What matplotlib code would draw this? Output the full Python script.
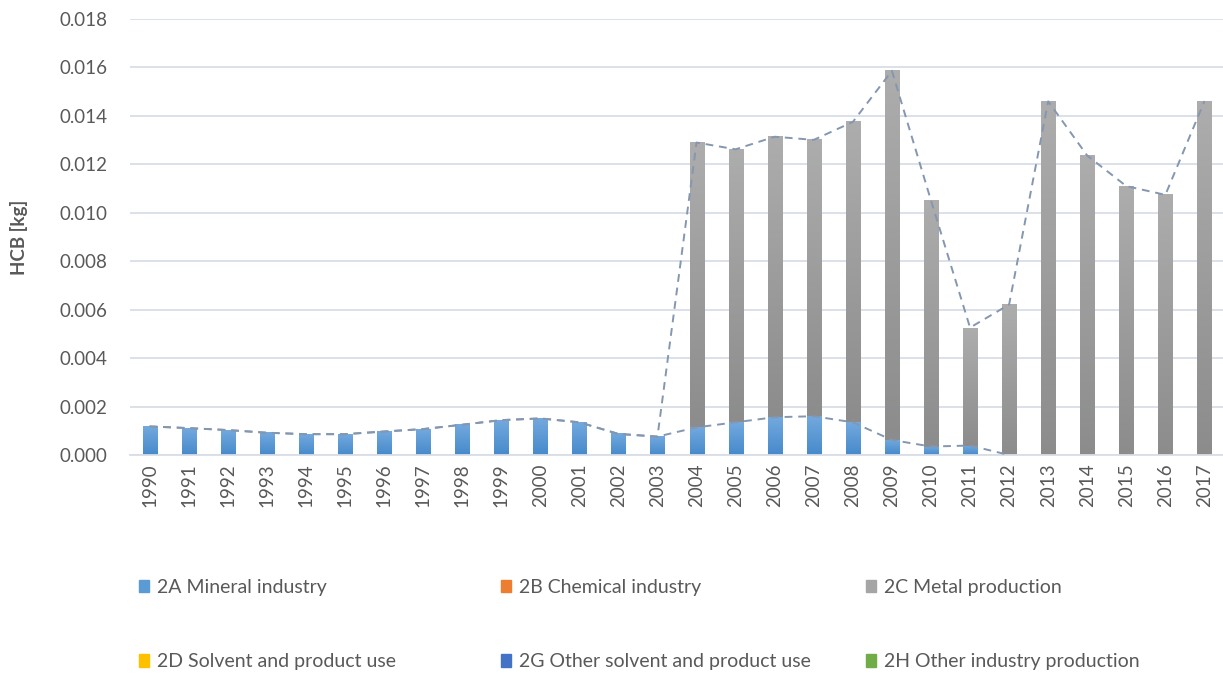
import numpy as np
import matplotlib
matplotlib.use("Agg")
import matplotlib.pyplot as plt
from matplotlib.colors import LinearSegmentedColormap
from matplotlib.patches import Patch

plt.rcParams['font.family'] = ['Lato', 'DejaVu Sans']

years = [str(y) for y in range(1990, 2018)]

# 2A Mineral industry (kg)
mineral = [0.00118, 0.00111, 0.00103, 0.00092, 0.00086, 0.00086, 0.00097, 0.00107,
           0.00125, 0.00144, 0.00151, 0.00135, 0.00087, 0.00076, 0.00114, 0.00135,
           0.00156, 0.00160, 0.00135, 0.00062, 0.00035, 0.00039, 0.0,
           np.nan, np.nan, np.nan, np.nan, np.nan]

# total (top of stacked bars)
total = [0.00118, 0.00111, 0.00103, 0.00092, 0.00086, 0.00086, 0.00097, 0.00107,
         0.00125, 0.00144, 0.00151, 0.00135, 0.00087, 0.00076, 0.01290, 0.01262,
         0.01314, 0.01301, 0.01375, 0.01586, 0.01051, 0.00526, 0.00621, 0.01460,
         0.01236, 0.01110, 0.01074, 0.01461]

legend_labels = ['2A Mineral industry', '2B Chemical industry', '2C Metal production',
                 '2D Solvent and product use', '2G Other solvent and product use',
                 '2H Other industry production']
legend_colors = ['#5B9BD5', '#ED7D31', '#A5A5A5', '#FFC000', '#4472C4', '#70AD47']

mineral_arr = np.array(mineral, dtype=float)
total_arr = np.array(total, dtype=float)
base = np.nan_to_num(mineral_arr)
metal = total_arr - base

x = np.arange(len(years))
txt = '#595959'

fig = plt.figure(figsize=(12.23, 6.75), dpi=100)
ax = fig.add_axes([130 / 1223, 1 - 455 / 675, 1094 / 1223, (455 - 19) / 675])

w = 0.36
bars_a = ax.bar(x, base, w, color='#5B9BD5', zorder=2)
bars_c = ax.bar(x, metal, w, bottom=base, color='#A5A5A5', zorder=2)


def gradient(bars, top, bottom):
    cmap = LinearSegmentedColormap.from_list('g', [bottom, top])
    grad = np.linspace(0, 1, 256).reshape(-1, 1)
    for b in bars:
        bx, by = b.get_xy()
        bw, bh = b.get_width(), b.get_height()
        if not bh > 1e-7:
            continue
        ax.imshow(grad, extent=[bx, bx + bw, by, by + bh], origin='lower',
                  aspect='auto', cmap=cmap, zorder=2.1, interpolation='bilinear')


gradient(bars_a, '#73A9DE', '#468ACB')
gradient(bars_c, '#ADADAD', '#8C8C8C')

# dashed lines
ax.plot(x, total_arr, color='#8497B0', lw=1.4, ls=(0, (4, 3)), zorder=3)
ax.plot(x, mineral_arr, color='#8497B0', lw=1.4, ls=(0, (4, 3)), zorder=3)

ax.set_xlim(-0.5, len(years) - 0.5)
ax.set_ylim(0, 0.018)
ax.set_yticks(np.arange(0, 0.0181, 0.002))
ax.set_yticklabels([f'{v:.3f}' for v in np.arange(0, 0.0181, 0.002)])
ax.set_xticks(x)
ax.set_xticklabels(years, rotation=90)
ax.tick_params(axis='both', length=0, labelsize=13.5, colors=txt)
ax.tick_params(axis='y', pad=16)
ax.tick_params(axis='x', pad=6)
ax.grid(axis='y', color='#D9DDE6', lw=1.3, zorder=0)
ax.set_axisbelow(True)
for s in ['top', 'right', 'left']:
    ax.spines[s].set_visible(False)
ax.spines['bottom'].set_color('#D9DDE6')
ax.spines['bottom'].set_linewidth(1.3)

fig.text(19 / 1223, 1 - 237 / 675, 'HCB [kg]', rotation=90, ha='center', va='center',
         fontsize=13.5, fontweight='bold', color=txt)

# legend: three columns, two rows
col_x = [139, 501, 866]
for c in range(3):
    handles = [Patch(color=legend_colors[c]), Patch(color=legend_colors[c + 3])]
    labels = [legend_labels[c], legend_labels[c + 3]]
    fig.legend(handles, labels, loc='upper left',
               bbox_to_anchor=(col_x[c] / 1223, 1 - 579 / 675),
               frameon=False, fontsize=14, labelcolor=txt,
               handlelength=0.5, handleheight=0.6, handletextpad=0.45,
               labelspacing=2.95, borderpad=0, borderaxespad=0)

fig.savefig('out.png', dpi=100)
